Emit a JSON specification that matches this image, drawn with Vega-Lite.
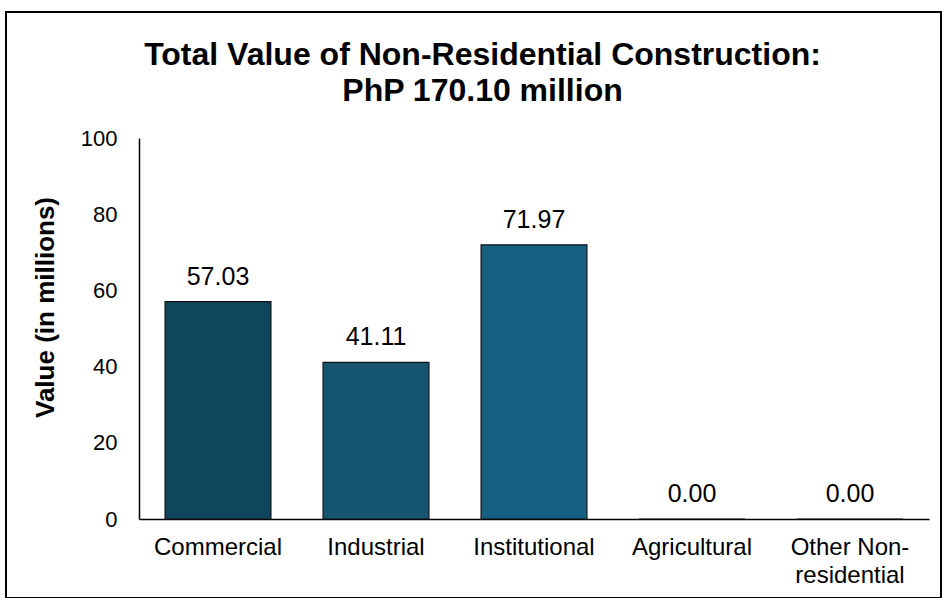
{
  "$schema": "https://vega.github.io/schema/vega-lite/v6.json",
  "width": 935,
  "height": 586,
  "autosize": "none",
  "padding": {"left": 6, "top": 12, "right": 4, "bottom": 0},
  "background": "white",
  "config": {
    "font": "Liberation Sans",
    "view": {"stroke": "black", "strokeWidth": 2}
  },
  "title": {
    "text": ["Total Value of Non-Residential Construction:", "PhP 170.10 million"],
    "fontSize": 32,
    "fontWeight": "bold",
    "font": "Liberation Sans",
    "color": "black",
    "anchor": "middle",
    "frame": "group",
    "dx": 9,
    "dy": 96,
    "lineHeight": 36,
    "offset": 0
  },
  "data": {
    "values": [
      {"category": "Commercial", "value": 57.03, "label": "57.03"},
      {"category": "Industrial", "value": 41.11, "label": "41.11"},
      {"category": "Institutional", "value": 71.97, "label": "71.97"},
      {"category": "Agricultural", "value": 0, "label": "0.00"},
      {"category": "Other Non-residential", "value": 0, "label": "0.00"}
    ]
  },
  "encoding": {
    "x": {
      "field": "category",
      "type": "nominal",
      "sort": null,
      "scale": {"range": [133, 923], "paddingInner": 0.33, "paddingOuter": 0.165},
      "axis": {
        "title": null,
        "offset": -79,
        "labelAngle": 0,
        "labelFontSize": 24,
        "labelColor": "black",
        "labelPadding": 16,
        "ticks": false,
        "domainColor": "black",
        "domainWidth": 1.5,
        "labelExpr": "datum.value == 'Other Non-residential' ? ['Other Non-', 'residential'] : datum.value",
        "labelLineHeight": 28
      }
    },
    "y": {
      "field": "value",
      "type": "quantitative",
      "scale": {"domain": [0, 100], "range": [507, 126]},
      "axis": {
        "offset": -133,
        "title": "Value (in millions)",
        "titleFontSize": 26,
        "titleFontWeight": "bold",
        "titleColor": "black",
        "titlePadding": 22,
        "titleY": 295,
        "values": [0, 20, 40, 60, 80, 100],
        "grid": false,
        "ticks": false,
        "labelFontSize": 22,
        "labelColor": "black",
        "labelPadding": 22,
        "domainColor": "black",
        "domainWidth": 1.5
      }
    }
  },
  "layer": [
    {
      "mark": {"type": "bar", "stroke": "#111111", "strokeWidth": 1.2},
      "encoding": {
        "color": {
          "field": "category",
          "type": "nominal",
          "sort": null,
          "scale": {
            "domain": ["Commercial", "Industrial", "Institutional", "Agricultural", "Other Non-residential"],
            "range": ["#10455e", "#155570", "#186082", "#1b6b90", "#1e759c"]
          },
          "legend": null
        }
      }
    },
    {
      "mark": {"type": "text", "baseline": "alphabetic", "dy": -17, "fontSize": 25, "color": "black"},
      "encoding": {
        "text": {"field": "label"}
      }
    }
  ]
}
